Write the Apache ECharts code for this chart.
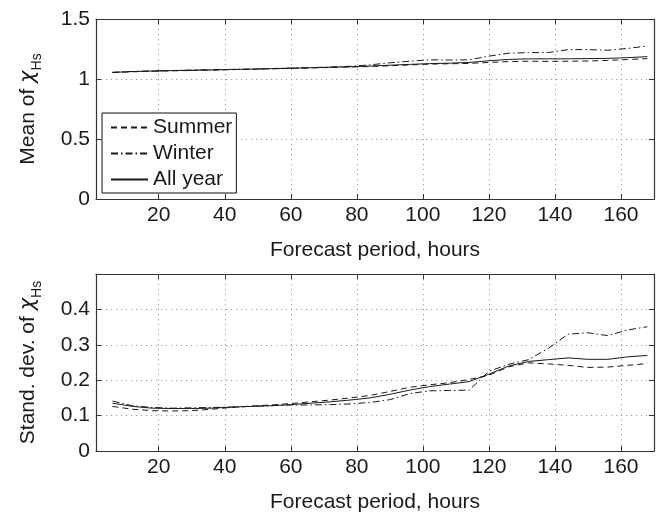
<!DOCTYPE html>
<html>
<head>
<meta charset="utf-8">
<script src="https://cdn.jsdelivr.net/npm/echarts@6/dist/echarts.min.js"></script>
<style>
  html, body { margin: 0; padding: 0; background: #fff; }
  #chart { width: 659px; height: 514px; }
</style>
</head>
<body>
<div id="chart"></div>
<script>
// Forecast lead time, hours
const hours = [6, 12, 18, 24, 30, 36, 42, 48, 54, 60, 66, 72, 78, 84, 90, 96, 102, 108, 114, 120, 126, 132, 138, 144, 150, 156, 162, 168];

// Mean of chi_Hs
const meanSummer = [1.053, 1.060, 1.065, 1.068, 1.071, 1.074, 1.078, 1.081, 1.085, 1.088, 1.092, 1.096, 1.100, 1.104, 1.110, 1.117, 1.124, 1.127, 1.130, 1.138, 1.145, 1.148, 1.147, 1.148, 1.150, 1.155, 1.162, 1.170];
const meanWinter = [1.056, 1.063, 1.067, 1.071, 1.074, 1.077, 1.080, 1.083, 1.087, 1.091, 1.095, 1.100, 1.106, 1.118, 1.135, 1.148, 1.160, 1.158, 1.160, 1.190, 1.215, 1.220, 1.220, 1.245, 1.245, 1.240, 1.255, 1.275];
const meanAllYear = [1.055, 1.062, 1.066, 1.070, 1.073, 1.076, 1.079, 1.082, 1.086, 1.090, 1.094, 1.098, 1.102, 1.108, 1.115, 1.122, 1.128, 1.132, 1.138, 1.152, 1.163, 1.168, 1.168, 1.168, 1.170, 1.172, 1.178, 1.186];

// Standard deviation of chi_Hs
const stdSummer = [0.126, 0.118, 0.114, 0.113, 0.114, 0.118, 0.123, 0.127, 0.130, 0.134, 0.139, 0.144, 0.150, 0.157, 0.168, 0.180, 0.187, 0.193, 0.202, 0.214, 0.238, 0.249, 0.246, 0.242, 0.236, 0.237, 0.242, 0.247];
const stdWinter = [0.141, 0.128, 0.123, 0.121, 0.122, 0.123, 0.124, 0.126, 0.128, 0.130, 0.130, 0.131, 0.133, 0.137, 0.145, 0.162, 0.170, 0.171, 0.172, 0.225, 0.245, 0.258, 0.290, 0.330, 0.334, 0.326, 0.342, 0.351];
const stdAllYear = [0.135, 0.126, 0.121, 0.120, 0.120, 0.121, 0.124, 0.126, 0.128, 0.131, 0.135, 0.139, 0.144, 0.150, 0.160, 0.172, 0.182, 0.189, 0.196, 0.217, 0.240, 0.253, 0.258, 0.263, 0.259, 0.259, 0.266, 0.270];

// Tick positions
const xTicks = [20, 40, 60, 80, 100, 120, 140, 160];
const meanTicks = [0, 0.5, 1, 1.5];
const stdTicks = [0, 0.1, 0.2, 0.3, 0.4];

const FONT = 'Liberation Sans, Arial, Helvetica, sans-serif';
const FS = 21;
const INK = '#1a1a1a';
const FRAME = '#333';

const pairs = (vals) => hours.map((h, i) => [h, vals[i]]);

const gridLine = { show: true, lineStyle: { color: '#9a9a9a', width: 1, type: [1.2, 3.8] } };

function bottomX(gridIndex) {
  return {
    type: 'value', gridIndex, min: 1, max: 170, position: 'bottom',
    name: 'Forecast period, hours', nameLocation: 'middle', nameGap: 41,
    nameTextStyle: { fontFamily: FONT, fontSize: FS, color: INK },
    axisLine: { show: true, onZero: false, lineStyle: { color: FRAME, width: 1.2 } },
    axisTick: { show: true, inside: true, length: 5, customValues: xTicks, lineStyle: { color: FRAME } },
    axisLabel: { show: true, margin: 6, customValues: xTicks, fontFamily: FONT, fontSize: FS, color: INK },
    splitLine: gridLine
  };
}
function topX(gridIndex) {
  return {
    type: 'value', gridIndex, min: 1, max: 170, position: 'top',
    axisLine: { show: true, onZero: false, lineStyle: { color: FRAME, width: 1.2 } },
    axisTick: { show: true, inside: true, length: 5, customValues: xTicks, lineStyle: { color: FRAME } },
    axisLabel: { show: false },
    splitLine: { show: false }
  };
}
function leftY(gridIndex, max, ticks, nameText) {
  return {
    type: 'value', gridIndex, min: 0, max, position: 'left',
    name: nameText, nameLocation: 'middle', nameGap: 55, nameRotate: 90,
    nameTextStyle: {
      fontFamily: FONT, color: INK,
      rich: {
        a: { fontFamily: FONT, fontSize: FS, color: INK, verticalAlign: 'top', lineHeight: 23 },
        chi: { fontFamily: 'DejaVu Sans, sans-serif', fontStyle: 'italic', fontSize: FS, color: INK, verticalAlign: 'top', lineHeight: 23 },
        sub: { fontFamily: FONT, fontSize: 14, color: INK, verticalAlign: 'top', lineHeight: 14, padding: [12, 0, 0, 0] }
      }
    },
    axisLine: { show: true, onZero: false, lineStyle: { color: FRAME, width: 1.2 } },
    axisTick: { show: true, inside: true, length: 5, customValues: ticks, lineStyle: { color: FRAME } },
    axisLabel: { show: true, margin: 6, customValues: ticks, fontFamily: FONT, fontSize: FS, color: INK },
    splitLine: gridLine
  };
}
function rightY(gridIndex, max, ticks) {
  return {
    type: 'value', gridIndex, min: 0, max, position: 'right',
    axisLine: { show: true, onZero: false, lineStyle: { color: FRAME, width: 1.2 } },
    axisTick: { show: true, inside: true, length: 5, customValues: ticks, lineStyle: { color: FRAME } },
    axisLabel: { show: false },
    splitLine: { show: false }
  };
}

const styles = {
  'Summer': { color: INK, width: 1, type: [6, 4] },
  'Winter': { color: INK, width: 1, type: [7, 3, 1.5, 3] },
  'All year': { color: INK, width: 1, type: 'solid' }
};

function line(name, vals, axisIdx) {
  return {
    type: 'line', name, data: pairs(vals),
    xAxisIndex: axisIdx, yAxisIndex: axisIdx,
    showSymbol: false, symbol: 'none', smooth: false,
    lineStyle: styles[name], itemStyle: { color: INK },
    silent: true, animation: false, z: 3
  };
}

const chart = echarts.init(document.getElementById('chart'), null, { renderer: 'canvas' });
chart.setOption({
  backgroundColor: '#fff',
  animation: false,
  grid: [
    { left: 96, right: 5, top: 19, height: 180 },
    { left: 96, right: 5, top: 274, height: 181 }
  ],
  xAxis: [bottomX(0), bottomX(1), topX(0), topX(1)],
  yAxis: [
    leftY(0, 1.5, meanTicks, '{a|Mean of }{chi|χ}{sub|Hs}'),
    leftY(1, 0.5, stdTicks, '{a|Stand. dev. of }{chi|χ}{sub|Hs}'),
    rightY(0, 1.5, meanTicks),
    rightY(1, 0.5, stdTicks)
  ],
  legend: {
    data: ['Summer', 'Winter', 'All year'],
    orient: 'vertical',
    left: 102, top: 113,
    itemWidth: 37, itemHeight: 14, itemGap: 5,
    padding: [4, 4, 3, 8],
    backgroundColor: '#fff',
    borderColor: '#111', borderWidth: 1, borderRadius: 0,
    selectedMode: false,
    // line-only keys: hide the marker symbol drawn on the key line
    itemStyle: { color: 'rgba(0,0,0,0)', borderWidth: 0, opacity: 0 },
    textStyle: { fontFamily: FONT, fontSize: FS, color: INK }
  },
  series: [
    line('Summer', meanSummer, 0),
    line('Winter', meanWinter, 0),
    line('All year', meanAllYear, 0),
    line('Summer', stdSummer, 1),
    line('Winter', stdWinter, 1),
    line('All year', stdAllYear, 1)
  ]
});
</script>
</body>
</html>
